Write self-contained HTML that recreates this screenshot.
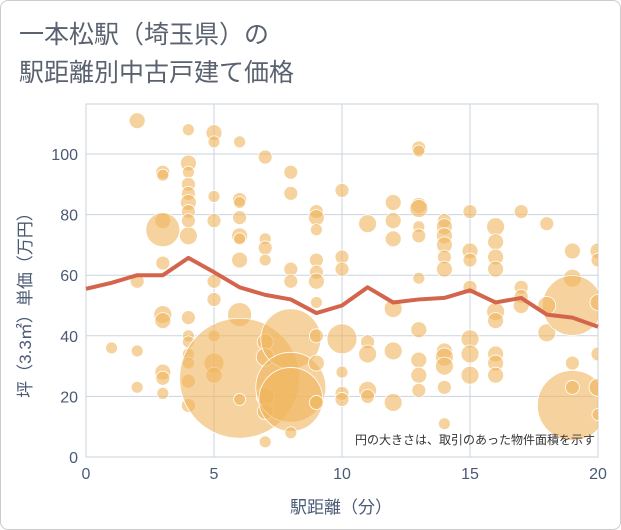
<!DOCTYPE html>
<html><head><meta charset="utf-8"><style>
body{margin:0;background:#fff;font-family:"Liberation Sans","Noto Sans CJK JP",sans-serif}
#wrap{position:relative;width:619px;height:528px;border:1px solid #ccc;border-radius:8px;overflow:hidden;background:#fff}
</style></head><body>
<div id="wrap">
<svg id="chart" width="619" height="528">
<text x="18" y="42" font-size="25" fill="#5a6270">一本松駅（埼玉県）の</text>
<text x="18" y="80" font-size="25" fill="#5a6270">駅距離別中古戸建て価格</text>
<g id="grid"></g><g id="bubbles"></g><g id="line"></g><g id="axes"></g>
<text x="594" y="443" font-size="12" fill="#333" text-anchor="end">円の大きさは、取引のあった物件面積を示す</text>
<text x="340" y="512" font-size="17" fill="#4a5a75" text-anchor="middle">駅距離（分）</text>
<text transform="translate(30,300) rotate(-90)" font-size="17" fill="#4a5a75" text-anchor="middle">坪（3.3㎡）単価（万円）</text>
</svg></div>
<script>
const xTicks=[0,5,10,15,20];
const yTicks=[0,20,40,60,80,100];
const lineX=[0,1,2,3,4,5,6,7,8,9,10,11,12,13,14,15,16,17,18,19,20];
const lineY=[55.5,57.5,60,60,65.7,61,56,53.5,52,47.5,50,56,51,52,52.5,55,51,52.5,47,46,43];
const bubX=[2,4,5,5,6,7,4,4,3,3,8,4,4,4,4,5,6,6,8,10,13,13,13,13,12,12,12,11,9,9,9,3,3,4,4,5,6,6,6,6,7,7,7,8,8,9,9,9,9,10,10,14,14,14,14,14,14,13,13,13,15,15,15,15,16,16,16,16,16,16,17,17,17,18,18,19,19,19,19,19,19,20,20,20,20,20,20,1,2,2,2,3,3,3,3,3,3,4,4,4,4,4,4,4,5,5,5,5,5,6,6,6,7,7,7,7,7,8,8,8,8,9,9,9,10,10,10,10,11,11,11,11,12,12,12,13,13,13,13,14,14,14,14,14,15,15,15,16,16,16,17,18];
const bubY=[111,108,107,104,104,99,97,94,94,93,94,90,87,84,81,86,85,84,87,88,102,101,83,82,84,78,72,77,81,79,75,78,75,73,78,78,79,73,72,65,72,69,65,62,58,65,61,58,51,66,62,78,76,73,70,66,62,76,73,59,81,68,65,56,76,71,66,62,48,45,81,56,53,77,41,68,59,50,31,17,23,68,65,51,34,23,14,36,35,23,58,64,47,45,28,26,21,46,40,38,34,31,25,17,58,52,40,31,27,47,26,19,38,33,20,15,5,39,23,19,8,40,31,18,39,28,21,19,38,34,22,20,49,35,18,42,32,27,22,35,33,30,23,11,39,34,27,34,31,27,50,50];
const bubR=[8,6,8,6,6,7,8,6,7,6,7,7,7,8,7,6,7,6,7,7,7,6,8,9,8,8,8,9,7,8,6,8,17,9,7,7,7,8,6,8,6,7,6,7,7,7,7,8,6,7,7,7,8,8,8,7,8,6,7,6,7,8,7,7,9,8,8,8,9,8,7,7,7,7,9,8,9,30,7,35,7,8,7,8,7,9,6,6,6,6,7,7,9,8,8,7,6,7,6,6,6,6,7,7,7,7,6,10,8,12,60,6,8,9,9,8,6,30,35,32,6,7,8,7,15,6,7,7,7,9,9,7,9,9,9,8,8,8,7,8,9,9,7,6,9,9,9,8,8,8,8,9];
const L=85,R=597,T=103,B=456;
const sx=v=>L+(v-0)/20*(R-L);
const sy=v=>B-v/116.5*(B-T);
const NS="http://www.w3.org/2000/svg";
function mk(t,a,p){const e=document.createElementNS(NS,t);for(const k in a)e.setAttribute(k,a[k]);p.appendChild(e);return e;}
const grid=document.getElementById('grid'),axes=document.getElementById('axes');
mk('rect',{x:L,y:T,width:R-L,height:B-T,fill:'none',stroke:'#c9d3de'},grid);
xTicks.forEach(t=>{
 const g=mk('line',{x1:sx(t),x2:sx(t),y1:T,y2:B,stroke:'#c9d3de'},grid);
 
 
 const tx=mk('text',{x:sx(t),y:B+22,'font-size':16,fill:'#4a5a75','text-anchor':'middle'},axes);
 tx.textContent=t;
 
 
});
yTicks.forEach(t=>{
 const g=mk('line',{x1:L,x2:R,y1:sy(t),y2:sy(t),stroke:'#c9d3de'},grid);
 
 
 const tx=mk('text',{x:L-8,y:sy(t)+6,'font-size':16,fill:'#4a5a75','text-anchor':'end'},axes);
 tx.textContent=t;
 
 
});
const bg=document.getElementById('bubbles');
const clip=mk('clipPath',{id:'pc'},bg);mk('rect',{x:L,y:T,width:R-L,height:B-T},clip);
bg.setAttribute('clip-path','url(#pc)');
bubX.forEach((x,i)=>{
 const c=mk('circle',{cx:sx(x),cy:sy(bubY[i]),r:bubR[i],fill:'#f0b55e','fill-opacity':0.6,stroke:'#fff','stroke-width':0.8},bg);
 
 
});
const pl=mk('polyline',{points:lineX.map((x,i)=>sx(x)+','+sy(lineY[i])).join(' '),fill:'none',stroke:'#d4654d','stroke-width':4,'stroke-linejoin':'round'},document.getElementById('line'));


</script>
</body></html>
